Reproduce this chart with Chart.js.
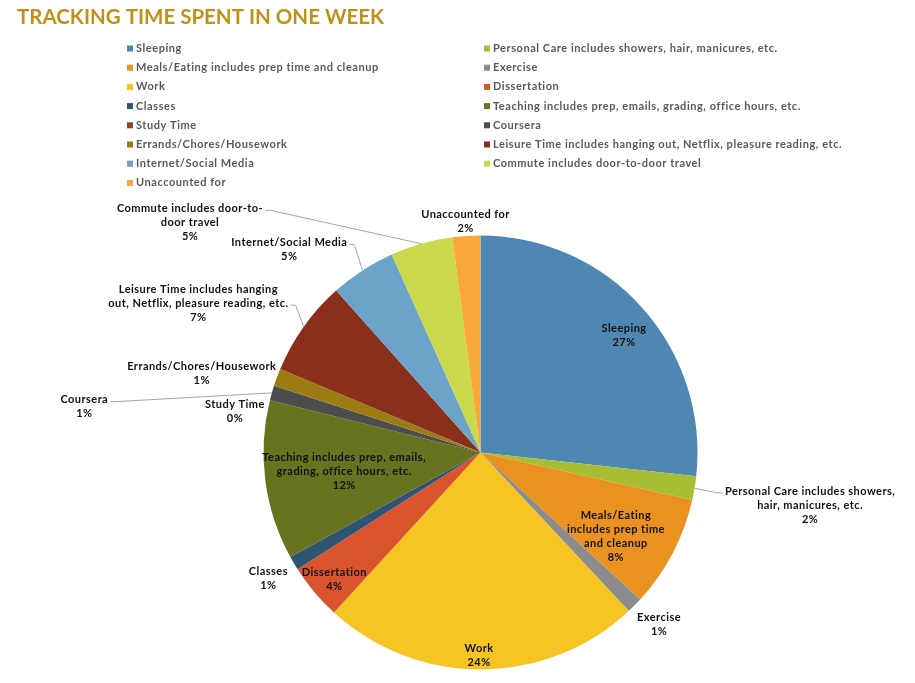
<!DOCTYPE html>
<html><head><meta charset="utf-8">
<script src="https://cdn.jsdelivr.net/npm/chart.js@4"></script>
<style>html,body{margin:0;padding:0;background:#fff;overflow:hidden}</style>
</head><body>
<canvas id="c" width="915" height="683"></canvas>
<script>
const chartTitle = 'TRACKING TIME SPENT IN ONE WEEK';
const categories = [
  'Sleeping',
  'Personal Care includes showers, hair, manicures, etc.',
  'Meals/Eating includes prep time and cleanup',
  'Exercise',
  'Work',
  'Dissertation',
  'Classes',
  'Teaching includes prep, emails, grading, office hours, etc.',
  'Study Time',
  'Coursera',
  'Errands/Chores/Housework',
  'Leisure Time includes hanging out, Netflix, pleasure reading, etc.',
  'Internet/Social Media',
  'Commute includes door-to-door travel',
  'Unaccounted for'
];
// hours per week
const hours = [45, 3, 14, 2, 40, 7, 1.75, 20, 0, 1.85, 2.2, 12, 8.2, 7.8, 3.5];
// category names as wrapped in the data labels
const labelLines = [
  ['Sleeping'],
  ['Personal Care includes showers,', 'hair, manicures, etc.'],
  ['Meals/Eating', 'includes prep time', 'and cleanup'],
  ['Exercise'],
  ['Work'],
  ['Dissertation'],
  ['Classes'],
  ['Teaching includes prep, emails,', 'grading, office hours, etc.'],
  ['Study Time'],
  ['Coursera'],
  ['Errands/Chores/Housework'],
  ['Leisure Time includes hanging', 'out, Netflix, pleasure reading, etc.'],
  ['Internet/Social Media'],
  ['Commute includes door-to-', 'door travel'],
  ['Unaccounted for']
];
const colors = ['#4E87B2','#A6BE34','#EA921F','#8C8C8C','#F6C423','#D9532D','#2E5673','#67731F','#8A4A1C','#4D4D4D','#9C7B12','#8A2F1B','#6CA3C8','#C9D94B','#F8A93A'];

// label placement: angle (deg clockwise from 12 o'clock), distance as fraction of radius, leader side
const placement = [
  {a:50.7, k:0.855},
  {a:99.05, k:1.538, leader:'left', line:0},
  {a:121.9, k:0.735},
  {a:134, k:1.144},
  {a:180.4, k:0.933},
  {a:229.1, k:0.891},
  {a:239.2, k:1.138},
  {a:262.2, k:0.634},
  {a:279.4, k:1.147},
  {a:276.6, k:1.838, leader:'right', line:0},
  {a:285.8, k:1.335},
  {a:297.9, k:1.471, leader:'right', line:1},
  {a:316.7, k:1.285, leader:'right', line:0},
  {a:308.4, k:1.708, leader:'right', line:0},
  {a:356.3, k:1.067}
];

const FONT = 'Lato, "DejaVu Sans", sans-serif';

function centered(ctx, t, x, y) {
  const w = ctx.measureText(t).width;
  ctx.textAlign = 'left';
  ctx.fillText(t, x - w / 2, y);
  return w;
}

const decor = {
  id: 'decor',
  afterDraw(chart) {
    const ctx = chart.ctx;
    ctx.save();
    // title
    ctx.fillStyle = '#BF9217';
    ctx.font = 'bold 20.5px ' + FONT;
    ctx.letterSpacing = '0px';
    ctx.textBaseline = 'middle';
    ctx.textAlign = 'left';
    ctx.fillText(chartTitle, 17, 17);
    // legend (two columns, row-major)
    ctx.font = 'bold 11px ' + FONT;
    ctx.letterSpacing = '0.55px';
    categories.forEach((c, i) => {
      const col = i % 2, row = Math.floor(i / 2);
      const x = col ? 484 : 127;
      const y = 48.5 + row * 19.2;
      ctx.fillStyle = colors[i];
      ctx.fillRect(x, y - 3, 6, 6);
      ctx.fillStyle = '#595959';
      ctx.fillText(c, x + 9, y);
    });
    ctx.restore();
  },
  afterDatasetsDraw(chart) {
    const ctx = chart.ctx;
    const meta = chart.getDatasetMeta(0);
    const total = hours.reduce((a, b) => a + b, 0);
    ctx.save();
    ctx.font = 'bold 11px ' + FONT;
    ctx.letterSpacing = '0.45px';
    ctx.textBaseline = 'middle';
    const lh = 14;
    meta.data.forEach((arc, i) => {
      const p = arc.getProps(['x', 'y', 'outerRadius', 'startAngle', 'endAngle'], true);
      const pl = placement[i];
      const ang = pl.a * Math.PI / 180;
      const bx = p.x + p.outerRadius * pl.k * Math.sin(ang);
      const by = p.y - p.outerRadius * pl.k * Math.cos(ang);
      const lines = labelLines[i].concat([Math.round(hours[i] / total * 100) + '%']);
      const top = by - (lines.length - 1) * lh / 2;
      if (pl.leader) {
        const mid = (p.startAngle + p.endAngle) / 2;
        const ex = p.x + p.outerRadius * Math.cos(mid);
        const ey = p.y + p.outerRadius * Math.sin(mid);
        const w = ctx.measureText(lines[pl.line]).width;
        const ly = top + pl.line * lh + 2;
        const sx = pl.leader === 'right' ? bx + w / 2 + 2 : bx - w / 2 - 2;
        const elx = pl.leader === 'right' ? sx + 5 : sx - 5;
        ctx.strokeStyle = '#A6A6A6';
        ctx.lineWidth = 1;
        ctx.beginPath();
        ctx.moveTo(sx, ly);
        ctx.lineTo(elx, ly);
        ctx.lineTo(ex, ey);
        ctx.stroke();
      }
      ctx.fillStyle = '#111';
      lines.forEach((t, j) => centered(ctx, t, bx, top + j * lh));
    });
    ctx.restore();
  }
};

new Chart(document.getElementById('c'), {
  type: 'pie',
  data: {
    labels: categories,
    datasets: [{ data: hours, backgroundColor: colors, borderWidth: 0 }]
  },
  options: {
    responsive: false,
    animation: false,
    layout: { padding: { top: 235.5, bottom: 13.5, left: 263.5, right: 217.5 } },
    plugins: { legend: { display: false }, title: { display: false }, tooltip: { enabled: false } }
  },
  plugins: [decor]
});
</script>
</body></html>
